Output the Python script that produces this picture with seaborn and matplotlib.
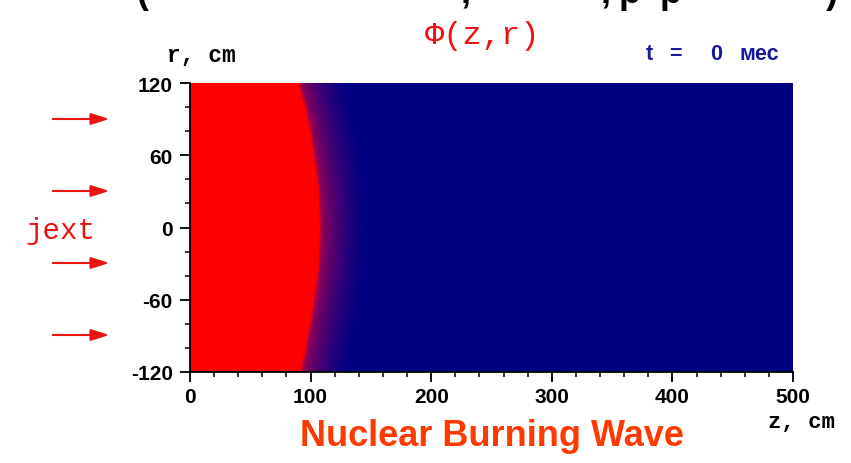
import numpy as np
import matplotlib
matplotlib.use("Agg")
import matplotlib.pyplot as plt
from matplotlib.colors import LinearSegmentedColormap
from matplotlib.patches import FancyArrowPatch
import seaborn as sns

# ---- data ----
z_max = 500                       # cm
r_max = 120                       # cm
r_knots = [-120, -90, -60, -30, 0, 30, 60, 90, 120]      # radius (cm)
front_z = [91, 97, 102, 106, 107, 106, 102, 97, 89]       # z where red ends (cm)
front_dz = [0, 3, 10, 20, 30, 40]                         # distance behind front (cm)
front_phi = [1.0, 0.62, 0.45, 0.25, 0.10, 0.0]            # relative flux
x_ticks = [0, 100, 200, 300, 400, 500]
y_ticks = [120, 60, 0, -60, -120]
arrow_rows_px = [120, 192, 264, 336]

# ---- build grid (1 cm cells) ----
r_centers = r_max - 0.5 - np.arange(2 * r_max)
z_centers = 0.5 + np.arange(z_max)
front = np.interp(r_centers, r_knots, front_z)
dist = z_centers[None, :] - front[:, None]
field = np.interp(dist, front_dz, front_phi, left=1.0, right=0.0)

cmap = LinearSegmentedColormap.from_list(
    "burn",
    [(0.0, (0.0, 0.0, 0.5)), (0.25, (0.2, 0.0, 0.47)), (0.5, (0.42, 0.0, 0.40)),
     (0.7, (0.62, 0.0, 0.30)), (1.0, (1.0, 0.0, 0.0))])

sns.set_theme(style="white")
plt.rcParams["font.family"] = ["Liberation Sans", "DejaVu Sans"]

W, H = 851, 464
fig = plt.figure(figsize=(W / 100, H / 100), dpi=100)
fig.patch.set_facecolor("white")
ax = fig.add_axes([190 / W, 1 - 373 / H, (793 - 190) / W, (373 - 84) / H])

sns.heatmap(field, cmap=cmap, vmin=0, vmax=1, cbar=False, ax=ax,
            xticklabels=False, yticklabels=False, rasterized=True)

ax.set_xlim(0, z_max)
ax.set_ylim(2 * r_max, 0)
ax.set_xticks(x_ticks)
ax.set_xticklabels([str(v) for v in x_ticks])
ax.set_yticks([r_max - v for v in y_ticks])
ax.set_yticklabels([str(v) for v in y_ticks])
ax.set_xticks(np.arange(0, z_max + 1, 20), minor=True)
ax.set_yticks(np.arange(0, 2 * r_max + 1, 20), minor=True)
ax.tick_params(which="major", direction="out", length=7.5, width=1.3, pad=3,
               labelsize=15, colors="black", left=True, bottom=True)
ax.tick_params(which="minor", direction="out", length=3.5, width=1.1,
               colors="black", left=True, bottom=True)
for lab in ax.get_xticklabels() + ax.get_yticklabels():
    lab.set_fontweight("bold")
    lab.set_rotation(0)
ax.tick_params(axis="y", pad=5)
for side in ["top", "right"]:
    ax.spines[side].set_visible(False)
for side in ["left", "bottom"]:
    ax.spines[side].set_visible(True)
    ax.spines[side].set_color("black")
    ax.spines[side].set_linewidth(1.3)
ax.set_xlabel("")
ax.set_ylabel("")


def ftext(x, y, s, **kw):
    fig.text(x / W, 1 - y / H, s, **kw)


mono = ["Liberation Mono", "DejaVu Sans Mono"]
ftext(201, 55, "r, cm", family=mono, fontweight="bold", fontsize=16.5,
      color="black", ha="center", va="center")
ftext(483, 36, "\u03a6(z,r)", family=mono, fontsize=23, color="#ee1111",
      ha="center", va="center")
navy_txt = "#1a1a99"
for x, s in [(649, "t"), (675, "="), (716, "0"), (759, "мес")]:
    ftext(x, 55, s, fontweight="bold", fontsize=15.5, color=navy_txt,
          ha="center", va="center")
ftext(60, 231, "jext", family=mono, fontsize=21, color="#ee1111",
      ha="center", va="center")
ftext(801, 423, "z, cm", family=mono, fontweight="bold", fontsize=16,
      color="black", ha="center", va="center")
ftext(492, 437, "Nuclear Burning Wave", fontweight="bold", fontsize=26,
      color="#ff3a00", ha="center", va="center")

# cropped heading line at the very top (only the lower part is visible)
for x, s in [(142, "("), (466, ","), (606, ","), (630, "р"), (671, "р"), (832, ")")]:
    ftext(x, 3, s, fontweight="bold", fontsize=26, color="black",
          ha="center", va="baseline")

for y in arrow_rows_px:
    fig.add_artist(FancyArrowPatch(
        (50 / W, 1 - y / H), (112 / W, 1 - y / H), transform=fig.transFigure,
        arrowstyle="-|>,head_length=11,head_width=3.5", color="#ee1111",
        linewidth=1.5, mutation_scale=1))

fig.savefig("out.png", dpi=100, facecolor="white")
